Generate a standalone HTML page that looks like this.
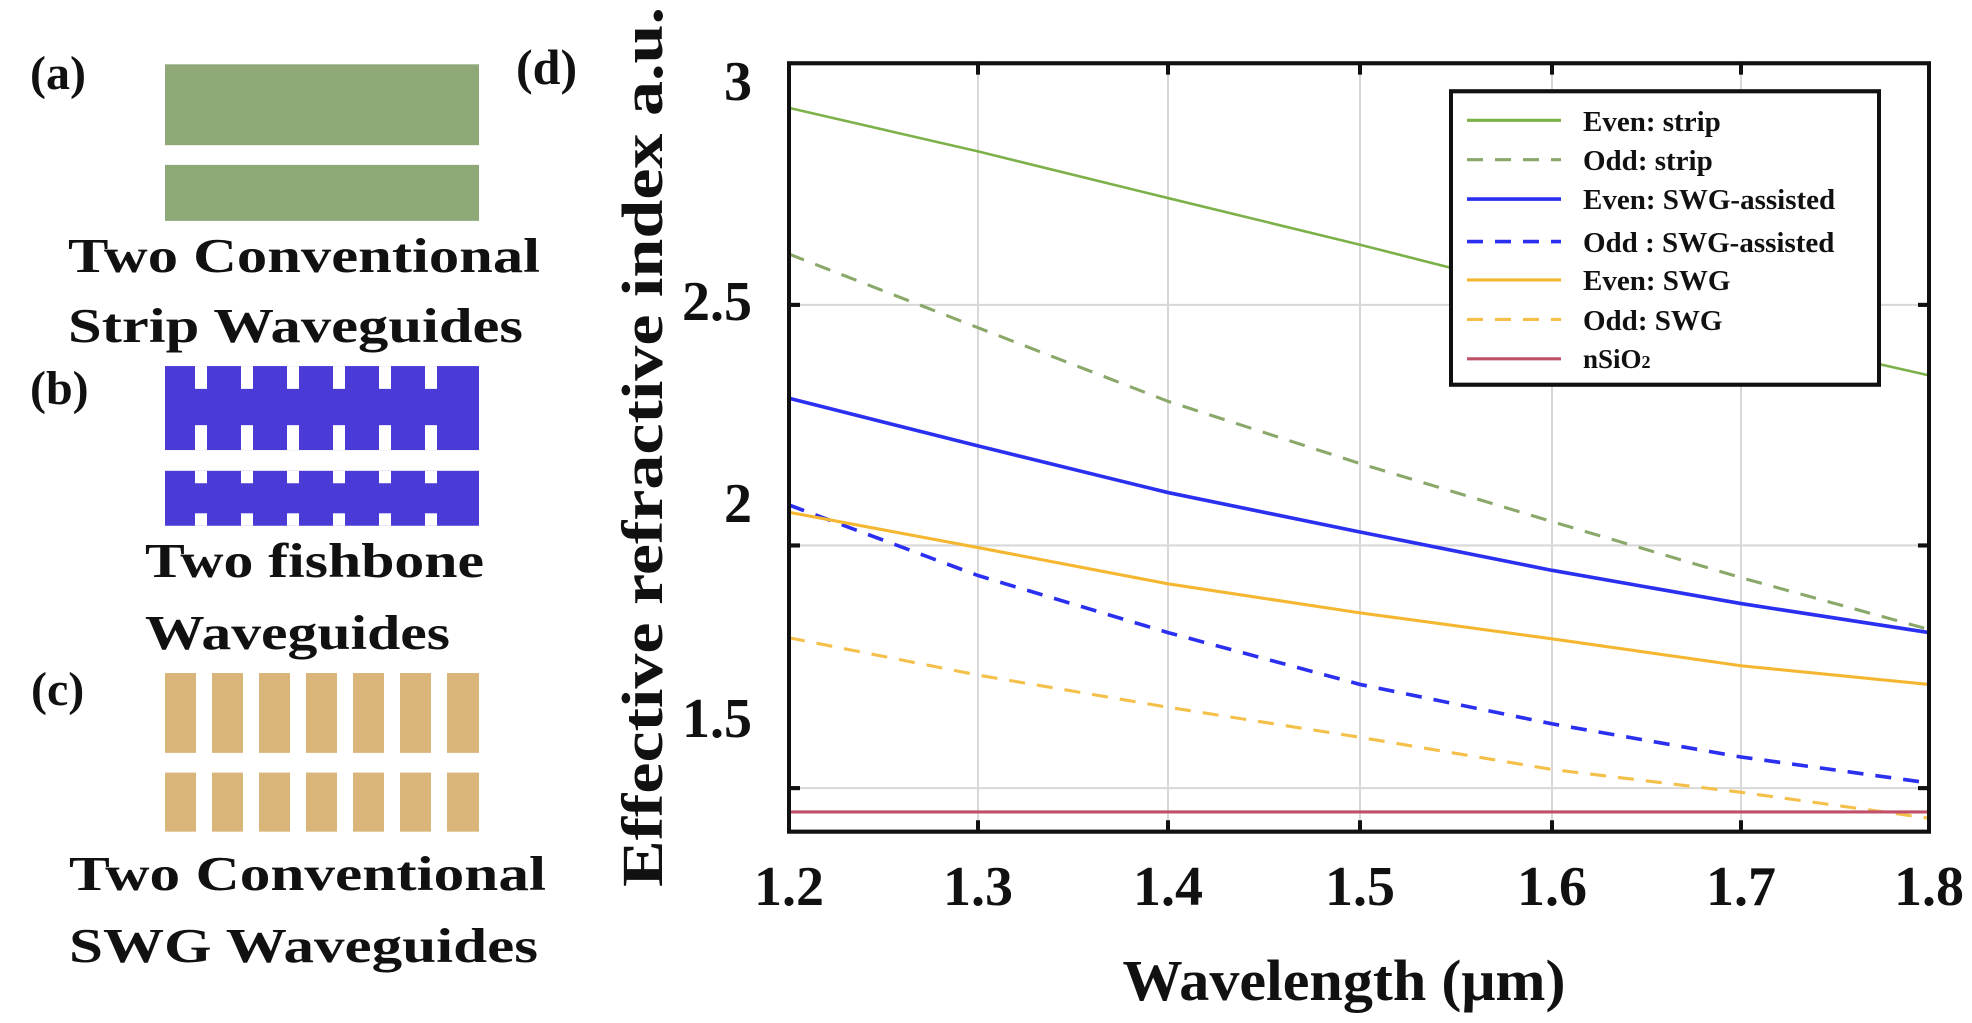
<!DOCTYPE html>
<html><head><meta charset="utf-8"><style>
html,body{margin:0;padding:0;background:#fff;}
svg{display:block;}
text{font-family:"Liberation Serif",serif;font-weight:bold;fill:#111;}
</style></head><body>
<svg width="1972" height="1023" viewBox="0 0 1972 1023" xmlns="http://www.w3.org/2000/svg">
<g transform="scale(1,1.037)">
<rect x="165" y="62" width="314" height="78" fill="#8fa878"/>
<rect x="165" y="159" width="314" height="54" fill="#8fa878"/>
<g fill="#4a3bd6">
<rect x="165" y="353" width="314" height="81"/>
<rect x="165" y="454" width="314" height="53"/>
</g>
<g fill="#fff">
<rect x="195" y="353" width="12" height="22"/><rect x="241" y="353" width="12" height="22"/><rect x="287" y="353" width="12" height="22"/><rect x="333" y="353" width="12" height="22"/><rect x="379" y="353" width="12" height="22"/><rect x="425" y="353" width="12" height="22"/>
<rect x="195" y="410" width="12" height="24"/><rect x="241" y="410" width="12" height="24"/><rect x="287" y="410" width="12" height="24"/><rect x="333" y="410" width="12" height="24"/><rect x="379" y="410" width="12" height="24"/><rect x="425" y="410" width="12" height="24"/>
<rect x="195" y="454" width="12" height="12"/><rect x="241" y="454" width="12" height="12"/><rect x="287" y="454" width="12" height="12"/><rect x="333" y="454" width="12" height="12"/><rect x="379" y="454" width="12" height="12"/><rect x="425" y="454" width="12" height="12"/>
<rect x="195" y="495" width="12" height="12"/><rect x="241" y="495" width="12" height="12"/><rect x="287" y="495" width="12" height="12"/><rect x="333" y="495" width="12" height="12"/><rect x="379" y="495" width="12" height="12"/><rect x="425" y="495" width="12" height="12"/>
</g>
<g fill="#d9b57a">
<rect x="165" y="649" width="31" height="77"/><rect x="212" y="649" width="31" height="77"/><rect x="259" y="649" width="31" height="77"/><rect x="306" y="649" width="31" height="77"/><rect x="353" y="649" width="31" height="77"/><rect x="400" y="649" width="31" height="77"/><rect x="447" y="649" width="32" height="77"/>
<rect x="165" y="745" width="31" height="57"/><rect x="212" y="745" width="31" height="57"/><rect x="259" y="745" width="31" height="57"/><rect x="306" y="745" width="31" height="57"/><rect x="353" y="745" width="31" height="57"/><rect x="400" y="745" width="31" height="57"/><rect x="447" y="745" width="32" height="57"/>
</g>

<g stroke="#d8d8d8" stroke-width="2">
<line x1="978" y1="61" x2="978" y2="802"/><line x1="1168" y1="61" x2="1168" y2="802"/><line x1="1360" y1="61" x2="1360" y2="802"/><line x1="1552" y1="61" x2="1552" y2="802"/><line x1="1741" y1="61" x2="1741" y2="802"/>
<line x1="789" y1="294" x2="1929" y2="294"/><line x1="789" y1="526" x2="1929" y2="526"/><line x1="789" y1="760" x2="1929" y2="760"/>
</g>
<g fill="none" stroke-width="3">
<polyline stroke="#7cb14a" stroke-width="2.5" points="789,104 978,146 1168,191 1360,236 1552,283 1741,321 1929,362"/>
<polyline stroke="#8aa86a" stroke-dasharray="16,12" points="789,245 978,316 1168,387 1360,447 1552,503 1741,557 1929,607"/>
<polyline stroke="#2a2ff0" stroke-width="3.5" points="789,384 978,430 1168,475 1360,513 1552,550 1741,582 1929,610"/>
<polyline stroke="#2a2ff0" stroke-width="3.5" stroke-dasharray="16,12" points="789,487 978,555 1168,610 1360,660 1552,698 1741,730 1929,755"/>
<polyline stroke="#f5b731" points="789,494 978,528 1168,563 1360,591 1552,616 1741,642 1929,660"/>
<polyline stroke="#f5c04a" stroke-dasharray="16,12" points="789,615 978,651 1168,682 1360,711 1552,742 1741,764 1929,789"/>
<line x1="789" y1="783" x2="1929" y2="783" stroke="#c0506a"/>
</g>
<rect x="789" y="61" width="1140" height="741" fill="none" stroke="#111" stroke-width="4"/>
<g stroke="#111" stroke-width="4">
<line x1="978" y1="61" x2="978" y2="72"/><line x1="1168" y1="61" x2="1168" y2="72"/><line x1="1360" y1="61" x2="1360" y2="72"/><line x1="1552" y1="61" x2="1552" y2="72"/><line x1="1741" y1="61" x2="1741" y2="72"/>
<line x1="978" y1="802" x2="978" y2="791"/><line x1="1168" y1="802" x2="1168" y2="791"/><line x1="1360" y1="802" x2="1360" y2="791"/><line x1="1552" y1="802" x2="1552" y2="791"/><line x1="1741" y1="802" x2="1741" y2="791"/>
<line x1="789" y1="294" x2="800" y2="294"/><line x1="789" y1="526" x2="800" y2="526"/><line x1="789" y1="760" x2="800" y2="760"/>
<line x1="1929" y1="294" x2="1918" y2="294"/><line x1="1929" y1="526" x2="1918" y2="526"/><line x1="1929" y1="760" x2="1918" y2="760"/>
</g>
<rect x="1451" y="88" width="428" height="283" fill="#fff" stroke="#111" stroke-width="4"/>
<g stroke-width="3">
<line x1="1467" y1="116" x2="1561" y2="116" stroke="#7cb14a"/>
<line x1="1467" y1="154" x2="1561" y2="154" stroke="#8aa86a" stroke-dasharray="16,12"/>
<line x1="1467" y1="192" x2="1561" y2="192" stroke="#2a2ff0" stroke-width="3.5"/>
<line x1="1467" y1="233" x2="1561" y2="233" stroke="#2a2ff0" stroke-width="3.5" stroke-dasharray="16,12"/>
<line x1="1467" y1="270" x2="1561" y2="270" stroke="#f5b731"/>
<line x1="1467" y1="308" x2="1561" y2="308" stroke="#f5c04a" stroke-dasharray="16,12"/>
<line x1="1467" y1="346" x2="1561" y2="346" stroke="#c0506a"/>
</g>
</g>

<!-- left panel text -->
<text x="30" y="89" font-size="48">(a)</text>
<text x="68" y="272" font-size="49" textLength="472" lengthAdjust="spacingAndGlyphs">Two Conventional</text>
<text x="68" y="342" font-size="49" textLength="455" lengthAdjust="spacingAndGlyphs">Strip Waveguides</text>
<text x="30" y="404" font-size="48">(b)</text>
<text x="145" y="577" font-size="49" textLength="339" lengthAdjust="spacingAndGlyphs">Two fishbone</text>
<text x="145" y="649" font-size="49" textLength="305" lengthAdjust="spacingAndGlyphs">Waveguides</text>
<text x="31" y="705" font-size="48">(c)</text>
<text x="69" y="890" font-size="49" textLength="477" lengthAdjust="spacingAndGlyphs">Two Conventional</text>
<text x="69" y="962" font-size="49" textLength="469" lengthAdjust="spacingAndGlyphs">SWG Waveguides</text>

<!-- plot text -->
<text x="516" y="84" font-size="50">(d)</text>
<g font-size="56" text-anchor="end">
<text x="752" y="100">3</text><text x="752" y="320">2.5</text><text x="752" y="522">2</text><text x="752" y="737">1.5</text>
</g>
<g font-size="56" text-anchor="middle">
<text x="789" y="905">1.2</text><text x="978" y="905">1.3</text><text x="1168" y="905">1.4</text><text x="1360" y="905">1.5</text><text x="1552" y="905">1.6</text><text x="1741" y="905">1.7</text><text x="1929" y="905">1.8</text>
</g>
<text x="1344" y="1000" font-size="58" text-anchor="middle" textLength="443" lengthAdjust="spacingAndGlyphs">Wavelength (μm)</text>
<text transform="translate(662,447) rotate(-90)" font-size="58" text-anchor="middle" textLength="880" lengthAdjust="spacingAndGlyphs">Effective refractive index a.u.</text>

<g font-size="29">
<text x="1583" y="131">Even: strip</text>
<text x="1583" y="170">Odd: strip</text>
<text x="1583" y="209">Even: SWG-assisted</text>
<text x="1583" y="252">Odd : SWG-assisted</text>
<text x="1583" y="290">Even: SWG</text>
<text x="1583" y="330">Odd: SWG</text>
<text x="1583" y="368" font-size="27">nSiO<tspan font-size="18">2</tspan></text>
</g>
</svg>
</body></html>
